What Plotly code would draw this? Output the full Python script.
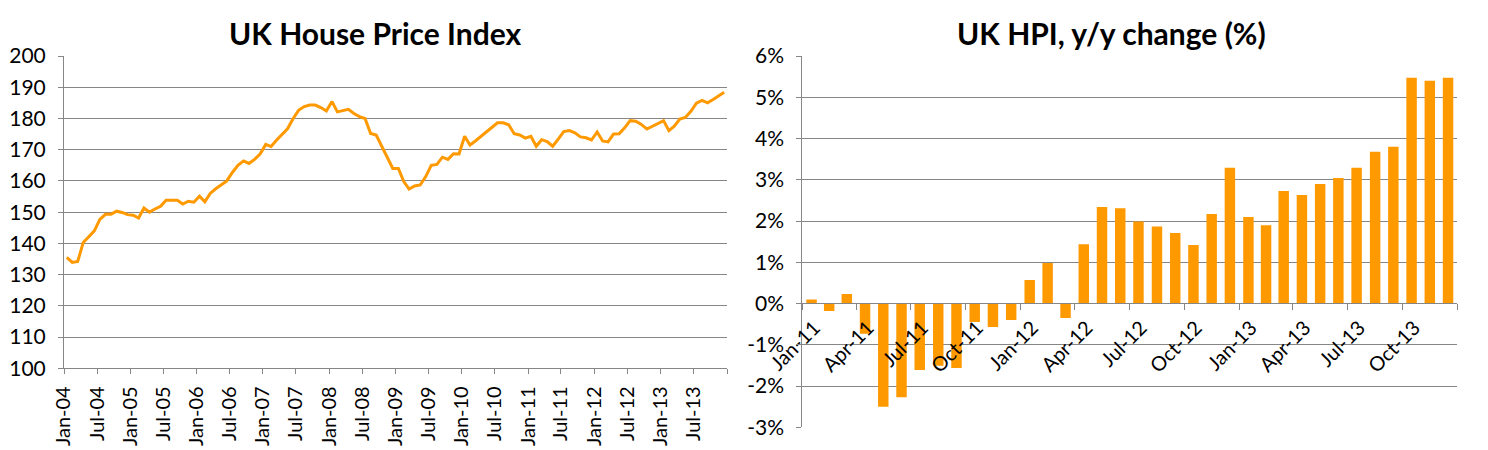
import pandas as pd
import plotly.graph_objects as go
from plotly.subplots import make_subplots

# UK house price index, monthly Jan-04 .. Dec-13
hpi_start = "2004-01-01"
hpi = [135.5, 133.9, 134.2, 140.3, 142.1, 144.0, 147.7, 149.3, 149.3, 150.3,
       149.9, 149.2, 149.0, 148.1, 151.3, 150.0, 151.0, 151.9, 153.8, 153.8,
       153.8, 152.6, 153.5, 153.2, 155.1, 153.3, 156.0, 157.5, 158.9, 160.0,
       162.7, 165.0, 166.4, 165.6, 166.9, 168.6, 171.7, 171.0, 173.0, 175.0,
       176.7, 179.9, 182.6, 183.8, 184.3, 184.3, 183.5, 182.4, 185.4, 182.1,
       182.5, 182.9, 181.6, 180.6, 180.0, 175.2, 174.7, 171.1, 167.6, 164.0,
       164.0, 159.8, 157.4, 158.4, 158.7, 161.4, 165.0, 165.3, 167.6, 166.9,
       168.7, 168.6, 174.3, 171.5, 172.8, 174.2, 175.7, 177.2, 178.6, 178.6,
       178.0, 175.1, 174.7, 173.7, 174.3, 171.1, 173.2, 172.6, 171.1, 173.4,
       175.8, 176.1, 175.4, 174.1, 173.8, 173.1, 175.7, 172.8, 172.5, 175.0,
       175.1, 177.0, 179.3, 179.1, 178.1, 176.6, 177.5, 178.6, 179.3, 176.1,
       177.5, 179.8, 180.3, 182.3, 184.9, 185.8, 185.0, 186.1, 187.2, 188.4]

# year on year change (%), monthly Jan-11 .. Dec-13
yoy_start = "2011-01-01"
yoy = [0.10, -0.18, 0.23, -0.73, -2.50, -2.27, -1.61, -1.51, -1.56, -0.45,
       -0.57, -0.40, 0.57, 0.98, -0.35, 1.44, 2.34, 2.31, 1.99, 1.87,
       1.71, 1.42, 2.17, 3.29, 2.10, 1.90, 2.73, 2.63, 2.90, 3.04,
       3.29, 3.68, 3.80, 5.47, 5.40, 5.47]

pct_ticks = [-3, -2, -1, 0, 1, 2, 3, 4, 5, 6]
pct_labels = [f"{v}%" for v in pct_ticks]

hpi_dates = pd.date_range(hpi_start, periods=len(hpi), freq="MS")
yoy_dates = pd.date_range(yoy_start, periods=len(yoy), freq="MS")

# tick positions, last one (Jan-14) has no label
hpi_ticks = pd.date_range("2004-01-01", "2014-01-01", freq="6MS")
hpi_ticktext = [d.strftime("%b-%y") for d in hpi_ticks[:-1]] + [""]
yoy_ticks = pd.date_range("2011-01-01", "2014-01-01", freq="3MS")
yoy_ticktext = [d.strftime("%b-%y") for d in yoy_ticks[:-1]] + [""]

orange = "#FF9900"
grid = "#868686"
W, H = 1488, 450
off = 8  # page body margin, positions below are in page pixels


def px_x(v):
    return (v - off) / W


def px_y(v):
    return 1 - (v - off) / H


fig = make_subplots(rows=1, cols=2)

fig.add_trace(go.Scatter(x=hpi_dates, y=hpi, mode="lines", xperiod="M1", xperiodalignment="middle"
                         , line=dict(color=orange, width=3), showlegend=False), row=1, col=1)
fig.add_trace(go.Bar(x=yoy_dates, y=yoy, xperiod="M1", xperiodalignment="middle"
                     , marker=dict(color=orange, line=dict(width=0)), width=17.5 * 24 * 3600 * 1000
                     , showlegend=False), row=1, col=2)

fig.update_layout(width=W, height=H, margin=dict(l=0, r=0, t=0, b=0)
                  , paper_bgcolor="white", plot_bgcolor="white"
                  , font=dict(family="Lato", size=20, color="black"))

fig.update_xaxes(domain=[px_x(64), px_x(727)], row=1, col=1)
fig.update_yaxes(domain=[px_y(368.3), px_y(56)], row=1, col=1)
fig.update_xaxes(domain=[px_x(802.3), px_x(1457.3)], row=1, col=2)
fig.update_yaxes(domain=[px_y(427.3), px_y(56)], row=1, col=2)

# left chart axes
fig.update_xaxes(type="date", range=["2004-01-01", "2014-01-01"], tickvals=hpi_ticks, ticktext=hpi_ticktext
                 , tickangle=-90, showgrid=False, automargin=False, ticklabelstandoff=4
                 , showline=True, linecolor=grid, linewidth=1, ticks="outside", ticklen=5, tickcolor=grid
                 , row=1, col=1)
fig.update_yaxes(range=[100, 200], dtick=10, gridcolor=grid, gridwidth=1, zeroline=False, automargin=False
                 , showline=True, linecolor=grid, linewidth=1, ticks="outside", ticklen=5, tickcolor=grid
                 , tickfont=dict(size=21), ticklabelstandoff=8
                 , row=1, col=1)

# right chart axes, x axis crosses at 0%
fig.update_xaxes(type="date", range=["2011-01-01", "2014-01-01"], tickvals=yoy_ticks, ticktext=yoy_ticktext
                 , tickangle=-45, showgrid=False, automargin=False, tickfont=dict(size=20)
                 , anchor="free", position=px_y(303.3), ticklabelshift=12, ticklabelstandoff=-2
                 , showline=True, linecolor=grid, linewidth=1, ticks="outside", ticklen=6, tickcolor=grid
                 , row=1, col=2)
fig.update_yaxes(range=[-3, 6], tickvals=pct_ticks, ticktext=pct_labels, gridcolor=grid, gridwidth=1
                 , zeroline=False, showline=True, linecolor=grid, linewidth=1, automargin=False
                 , ticks="outside", ticklen=5, tickcolor=grid, tickfont=dict(size=21), ticklabelstandoff=8
                 , row=1, col=2)

fig.add_annotation(text="<b>UK House Price Index</b>", x=px_x(375), y=px_y(33), xref="paper", yref="paper"
                   , xanchor="center", yanchor="middle", showarrow=False, font=dict(size=30, family="Lato"))
fig.add_annotation(text="<b>UK HPI, y/y change (%)</b>", x=px_x(1111), y=px_y(33), xref="paper", yref="paper"
                   , xanchor="center", yanchor="middle", showarrow=False, font=dict(size=30, family="Lato"))

fig.write_html("out.html")
